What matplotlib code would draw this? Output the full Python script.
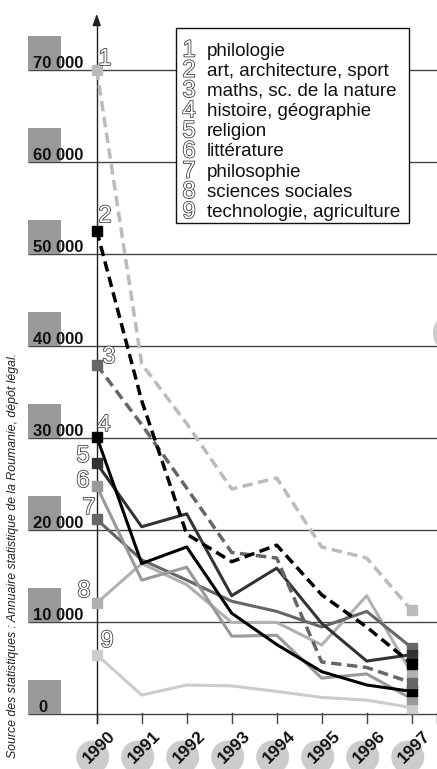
import matplotlib
matplotlib.use('Agg')
import matplotlib.pyplot as plt
from matplotlib.patches import Rectangle, Ellipse
import matplotlib.patheffects as pe

plt.rcParams['font.family'] = ['Liberation Sans', 'DejaVu Sans']

# ---------------- data ----------------
years = [1990, 1991, 1992, 1993, 1994, 1995, 1996, 1997]
categories = ['philologie', 'art, architecture, sport', 'maths, sc. de la nature',
              'histoire, géographie', 'religion', 'littérature', 'philosophie',
              'sciences sociales', 'technologie, agriculture']
philologie    = [70000, 38000, 31500, 24400, 25600, 18100, 16900, 11200]
art           = [52500, 34000, 19500, 16500, 18300, 12900, 9400, 5400]
maths         = [37900, 31400, 24500, 17500, 16900, 5600, 5000, 3350]
histoire      = [30100, 16300, 18100, 10900, 7500, 4550, 3100, 2400]
religion      = [27200, 20300, 21700, 12800, 15800, 9800, 5700, 6400]
litterature   = [24700, 14500, 15900, 8400, 8500, 3850, 4300, 1600]
philosophie   = [21100, 16700, 14500, 12200, 11100, 9400, 11100, 7150]
sciences_soc  = [12000, 16300, 14000, 9900, 9900, 7450, 12800, 4350]
technologie   = [6400, 2000, 3100, 3000, 2400, 1750, 1450, 650]
series = [philologie, art, maths, histoire, religion, litterature,
          philosophie, sciences_soc, technologie]
numbers = ['1', '2', '3', '4', '5', '6', '7', '8', '9']
yticks = [0, 10000, 20000, 30000, 40000, 50000, 60000, 70000]
ytick_labels = ['0', '10 000', '20 000', '30 000', '40 000', '50 000', '60 000', '70 000']
source = 'Source des statistiques : Annuaire statistique de la Roumanie, dépôt légal.'

# ---------------- styles ----------------
colors = ['#bbbbbb', '#000000', '#666666', '#000000', '#333333',
          '#999999', '#666666', '#b0b0b0', '#cccccc']
dashed = [True, True, True, False, False, False, False, False, False]

W, H = 437, 769
fig = plt.figure(figsize=(W / 100, H / 100), dpi=100)
ax = fig.add_axes([0, 0, 1, 1])
X0, DX, Y0, DY = 96.7, 45.0, 713.5, 0.0092
ax.set_xlim(1990 - X0 / DX, 1990 + (W - X0) / DX)
ax.set_ylim((Y0 - H) / DY, Y0 / DY)
ax.axis('off')

def px(p):
    return 1990 + (p - X0) / DX

def py(p):
    return (Y0 - p) / DY

def wx(p):   # pixel width -> data width
    return p / DX

def hy(p):   # pixel height -> data height
    return p / DY

# grid lines + boxes + labels
for v, lab in zip(yticks, ytick_labels):
    ax.plot([px(28), px(W)], [v, v], color='#444444', lw=1.0, zorder=1,
            solid_capstyle='butt')
    ax.add_patch(Rectangle((px(28), v), wx(33), hy(34),
                           facecolor='#999999', edgecolor='none', zorder=2))
    xl = 38 if v == 0 else 33
    ax.text(px(xl), v + hy(1.5), lab, fontsize=12, fontweight='bold',
            ha='left', va='baseline', color='#111111', zorder=3)

# vertical axis with arrow
ax.plot([1990, 1990], [py(723), py(20)], color='#222222', lw=1.0, zorder=3)
ax.annotate('', xy=(1990, py(11)), xytext=(1990, py(22)),
            arrowprops=dict(arrowstyle='-|>,head_width=0.25,head_length=0.7',
                            color='#222222', lw=1.0), zorder=3)

# ticks
for yr in years + [px(436.5)]:
    ax.plot([yr, yr], [py(713), py(723)], color='#444444', lw=1.0, zorder=1)

# year labels with circles
for yr in years:
    xc = yr - wx(4)
    ax.add_patch(Ellipse((xc, py(757)), wx(33), hy(33),
                         facecolor='#cccccc', edgecolor='none', zorder=2))
    ax.text(yr + wx(3), py(747), str(yr), rotation=45, fontsize=12.5,
            fontweight='bold', ha='center', va='center', color='#111111', zorder=3)

# partial decorative circle on the right edge
ax.add_patch(Ellipse((px(454), py(333)), wx(42), hy(42),
                     facecolor='#cccccc', edgecolor='none', zorder=0))

# series
for i in range(8, -1, -1):
    vals = series[i]
    if dashed[i]:
        ax.plot(years, vals, color=colors[i], lw=2.5, dashes=(3, 1.6), zorder=5 + (9 - i) * 0.01)
    else:
        ax.plot(years, vals, color=colors[i], lw=2.2, zorder=5 + (9 - i) * 0.01)
    ax.plot([years[0], years[-1]], [vals[0], vals[-1]], 's', color=colors[i],
            ms=7, zorder=6)

outline = [pe.Stroke(linewidth=1.1, foreground='#333333'), pe.Normal()]

# series number labels near 1990
num_pos = [(105, 59), (105, 216), (109, 357), (104, 425), (83, 456),
           (83, 481), (89, 508), (84, 591), (107, 641)]
for n, (x, y) in zip(numbers, num_pos):
    ax.text(px(x), py(y), n, fontsize=17, ha='center', va='center', color='white',
            path_effects=outline, zorder=7)

# legend box
ax.add_patch(Rectangle((px(176), py(223)), wx(409 - 176), hy(223 - 28),
                       facecolor='white', edgecolor='#111111', lw=1.0, zorder=8))
for k, (n, lab) in enumerate(zip(numbers, categories)):
    yb = 55.5 + 20.2 * k
    ax.text(px(182.5), py(yb + 1), n, fontsize=17, ha='left', va='baseline', color='white',
            path_effects=outline, zorder=9)
    ax.text(px(206.5), py(yb), lab, fontsize=13.5, ha='left', va='baseline',
            color='#111111', zorder=9)

# source text
ax.text(px(13), py(555), source, rotation=90, fontsize=8.8, style='italic',
        ha='center', va='center', color='#222222', zorder=9)

fig.savefig('out.png', dpi=100)
